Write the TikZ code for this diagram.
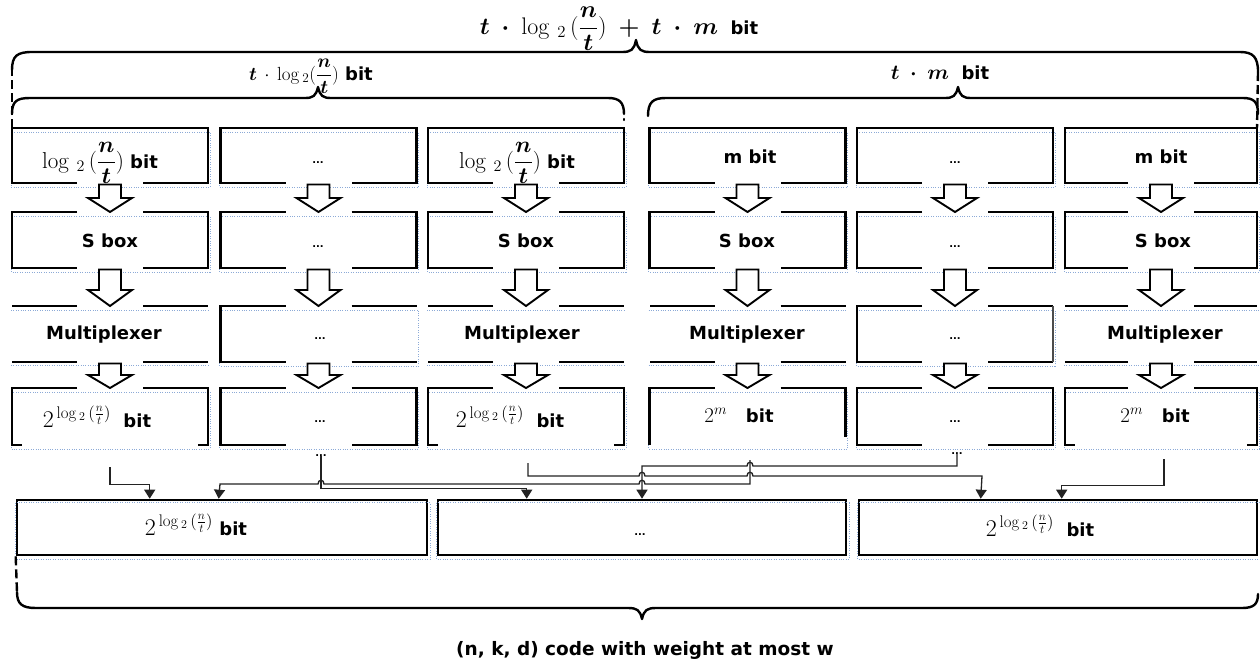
\RequirePackage{fix-cm}
\documentclass[tikz,border=0pt]{standalone}
\usepackage{amsmath}
\usepackage{fontspec}
\setsansfont{DejaVu Sans}
\usetikzlibrary{arrows.meta,calc}

\definecolor{framedot}{RGB}{140,170,215}
\definecolor{wire}{RGB}{35,35,35}

% fonts and recurring formulas
\newcommand\lbfont{\sffamily\bfseries\fontsize{18}{21}\selectfont}
\newcommand\mfont[1]{\fontsize{#1}{#1}\selectfont}
\newcommand\lgnt{\log\,{}_{2}\,(\dfrac{\boldsymbol{n}}{\boldsymbol{t}})}
\newcommand\powlg{2^{\,\log{}_{2}\,(\frac{n}{t})}}

% partial box outlines, drawn around invisible cell nodes
\newcommand\topbox[1]{% closed top, opening in the bottom edge
  \draw[boxline] ($(#1.south)+(-33,0)$) -| (#1.north west) -- (#1.north east) |- ($(#1.south)+(33,0)$);}
\newcommand\midbox[1]{% openings in top and bottom edges
  \draw[boxline] ($(#1.north)+(-33,0)$) -| (#1.south west) -- ($(#1.south)+(-33,0)$);
  \draw[boxline] ($(#1.north)+(33,0)$) -| (#1.south east) -- ($(#1.south)+(33,0)$);}
\newcommand\openbox[1]{% top and bottom edges only
  \draw[boxline] ($(#1.north)+(-33,0)$) -- (#1.north west);
  \draw[boxline] ($(#1.north)+(33,0)$) -- (#1.north east);
  \draw[thinline] ($(#1.south)+(-33,0)$) -- (#1.south west);
  \draw[thinline] ($(#1.south)+(33,0)$) -- (#1.south east);}
\newcommand\halfbox[1]{% left side, no right side
  \draw[boxline] ($(#1.north)+(-33,0)$) -| (#1.south west) -- ($(#1.south)+(-33,0)$);
  \draw[boxline] ($(#1.north)+(33,0)$) -- (#1.north east);
  \draw[boxline] ($(#1.south)+(33,0)$) -- (#1.south east);}
\newcommand\footbox[1]{% bracket shape with short feet
  \draw[boxline] ($(#1.north)+(-33,0)$) -| (#1.south west) -- ++(10,0);
  \draw[boxline] ($(#1.north)+(33,0)$) -| (#1.south east) -- ++(-10,0);}

% dotted text frames: full rectangle, or only the horizontal rules
\newcommand\dotframe[1]{%
  \draw[framedots] ($(#1.north west)+(-1,4)$) rectangle ($(#1.south east)+(2,4)$);}
\newcommand\dotrules[1]{%
  \draw[framedots] ($(#1.north west)+(-1,4)$) -- ($(#1.north east)+(2,4)$);
  \draw[framedots] ($(#1.south west)+(-1,3)$) -- ($(#1.south east)+(2,3)$);}

% hollow block arrow from one cell down to the next
\newcommand\flowdown[3]{%
  \draw[blockarr] let \p1=(#1.south), \p2=(#2.north) in
    (\x1-11pt,\y1-1.5pt) -- (\x1+11pt,\y1-1.5pt) -- (\x1+11pt,\y2+#3) -- (\x1+22pt,\y2+#3)
    -- (\x1,\y2) -- (\x1-22pt,\y2+#3) -- (\x1-11pt,\y2+#3) -- cycle;}

\tikzset{
  cell/.style={minimum width=196pt, minimum height=#1, inner sep=0pt, outer sep=0pt},
  bigbox/.style={draw, line width=2.6pt, minimum height=55pt, inner sep=0pt},
  boxline/.style={line width=2.6pt, line join=miter},
  thinline/.style={line width=1.3pt},
  brace/.style={line width=2.4pt, line cap=round, line join=round},
  dashedbrace/.style={line width=2.4pt, dash pattern=on 9pt off 4pt},
  blockarr/.style={line width=1.9pt, line join=miter, fill=white},
  conn/.style={line width=1.3pt, draw=wire, -{Triangle[width=11pt,length=9pt]}},
  framedots/.style={draw=framedot, line width=0.7pt, dash pattern=on 0.8pt off 1.6pt},
  txt/.style={font=\lbfont, inner sep=0pt, anchor=base},
  dots/.style={font=\sffamily\bfseries\fontsize{10}{10}\selectfont, inner sep=0pt, anchor=base},
}

\begin{document}
\begin{tikzpicture}[x=1pt,y=-1pt]
\fill[white] (0,0) rectangle (1260,659);
\useasboundingbox (0,0) rectangle (1260,659);

% ---- grid of cells: rows a..d, columns 1..6
\foreach \r/\yy/\hh in {a/155.5/55pt, b/240/56pt, c/334/56pt, d/416.5/57pt}{
  \foreach \c/\xx in {1/110, 2/318.5, 3/526, 4/747.5, 5/955}
    \node[cell=\hh] (\r\c) at (\xx,\yy) {};
  \node[cell=\hh, minimum width=192pt] (\r6) at (1161,\yy) {};
}

% light dotted text frames
\foreach \r in {a,b,d}{
  \foreach \c in {1,...,6}{\dotframe{\r\c}}
}
\dotrules{c1}\dotframe{c2}\dotrules{c3}\dotrules{c4}\dotframe{c5}\dotrules{c6}

% outlines
\foreach \c in {1,...,6}{\topbox{a\c}\midbox{b\c}}
\openbox{c1}\halfbox{c2}\openbox{c3}\openbox{c4}\halfbox{c5}\openbox{c6}
\draw[thinline, draw=black!70] (c5.north east) -- (c5.south east);
\footbox{d1}\midbox{d2}\footbox{d3}\midbox{d5}\footbox{d6}
\draw[boxline] ($(d4.north)+(-33,0)$) -| (d4.south west);
\draw[boxline] ($(d4.north)+(33,0)$) -| ($(d4.south east)+(0,-8)$);

% block arrows between the rows
\foreach \c in {1,...,6}{
  \flowdown{a\c}{b\c}{14pt}
  \flowdown{b\c}{c\c}{16pt}
  \flowdown{c\c}{d\c}{13pt}
}

% ---- cell texts
\node[txt] (ta1) at (100,168) {{\mfont{23}$\lgnt$}\ bit};
\node[dots] (ta2) at (318,163) {...};
\node[txt] (ta3) at (517,168) {{\mfont{23}$\lgnt$}\ bit};
\node[txt] (ta4) at (750,163) {m bit};
\node[dots] (ta5) at (955,163) {...};
\node[txt] (ta6) at (1161,163) {m bit};

\node[txt] (tb1) at (110,247) {S box};
\node[dots] (tb2) at (318,247) {...};
\node[txt] (tb3) at (526,247) {S box};
\node[txt] (tb4) at (747,247) {S box};
\node[dots] (tb5) at (955,247) {...};
\node[txt] (tb6) at (1163,247) {S box};

\node[txt] (tc1) at (104,339) {Multiplexer};
\node[dots] (tc2) at (320,339) {...};
\node[txt] (tc3) at (522,339) {Multiplexer};
\node[txt] (tc4) at (747,339) {Multiplexer};
\node[dots] (tc5) at (955,339) {...};
\node[txt] (tc6) at (1165,339) {Multiplexer};

\node[txt] (td1) at (97,427) {{\mfont{24}$\powlg$}\ \ bit};
\node[dots] (td2) at (320,422) {...};
\node[txt] (td3) at (510,427) {{\mfont{24}$\powlg$}\ \ bit};
\node[txt] (td4) at (739,422) {{\mfont{21}$2^{m}$}\ \ \ bit};
\node[dots] (td5) at (955,422) {...};
\node[txt] (td6) at (1155,422) {{\mfont{21}$2^{m}$}\ \ \ bit};

% ---- output register
\node[bigbox, minimum width=410pt] (bA) at (222,527.5) {};
\node[bigbox, minimum width=408pt] (bB) at (642,527.5) {};
\node[bigbox, minimum width=398pt] (bC) at (1058,527.5) {};
\draw[framedots] ($(bA.north west)+(0,4)$) rectangle ($(bA.south east)+(2,3)$);
\draw[framedots] ($(bB.north west)+(0,4)$) rectangle ($(bB.south east)+(2,3)$);
\draw[framedots] ($(bC.north west)+(0,4)$) rectangle ($(bC.south east)+(2,3)$);
\node[txt] (tA) at (196,535) {{\mfont{24}$\powlg$}\ bit};
\node[dots] (tB) at (640,535) {...};
\node[txt] (tC) at (1040,536) {{\mfont{24}$\powlg$}\ \ bit};

% ---- wiring from the columns to the register
\node[dots] (s2) at (321,456) {...};
\node[dots] (s5) at (957,454) {...};
\coordinate (o1) at (110,467);
\coordinate (o3) at (528,463);
\coordinate (o4) at (750,460);
\coordinate (o6) at (1164,459);
\coordinate (inA1) at ($(bA.north west)+(134,0)$);
\coordinate (inA2) at ($(bA.north west)+(203,0)$);
\coordinate (inB1) at ($(bB.north west)+(90,0)$);
\coordinate (inB2) at (bB.north);
\coordinate (inC1) at ($(bC.north west)+(123,0)$);
\coordinate (inC2) at ($(bC.north west)+(204,0)$);

\draw[conn] (o1) |- ($(inA1)+(0,-14)$) -- (inA1);
\draw[conn] (o4) -- (750,484) -- (645,484) .. controls (645,479) and (639,479) .. (639,484)
  -- (324,484) .. controls (324,479) and (318,479) .. (318,484) -- (220,484) -- (inA2);
\draw[conn] (s2.south) |- ($(inB1)+(0,-10)$) -- (inB1);
\draw[conn] (s5.south) -- (957,466) -- (753,466) .. controls (753,461) and (747,461) .. (747,466)
  -- (642,466) -- (inB2);
\draw[conn] (o3) -- (528,476) -- (639,476) .. controls (639,471) and (645,471) .. (645,476)
  -- (747,476) .. controls (747,471) and (753,471) .. (753,476) -- (982,476) -- (inC1);
\draw[conn] (o6) |- ($(inC2)+(0,-13)$) -- (inC2);

% ---- braces and their labels
\draw[dashedbrace] (a1.north west) -- (12,70);
\draw[brace] (12,70) .. controls (12,56) and (17,52) .. (32,52) -- (622,52)
  .. controls (631,52) and (634,50) .. (636,40) .. controls (638,50) and (641,52) .. (650,52)
  -- (1240,52) .. controls (1253,52) and (1258,57) .. (1258,72);
\draw[dashedbrace] (1258,72) -- (a6.north east);

\draw[brace] (12,114) .. controls (12,101) and (17,98) .. (30,98) -- (305,98)
  .. controls (313,98) and (316,96) .. (318,87) .. controls (320,96) and (323,98) .. (331,98)
  -- (608,98) .. controls (619,98) and (624,102) .. (624,114);
\draw[brace] (624,119) -- (624,120);
\draw[brace] (648,116) .. controls (648,102) and (653,98) .. (666,98) -- (945,98)
  .. controls (953,98) and (956,96) .. (958,87) .. controls (960,96) and (963,98) .. (971,98)
  -- (1243,98) .. controls (1254,98) and (1258,102) .. (1258,114);

\node[txt] (ttop) at (619,34) {{\mfont{24}$\boldsymbol{t}\;\mathbin{\boldsymbol{\cdot}}\;\lgnt\;\mathbin{\boldsymbol{+}}\;\boldsymbol{t}\;\mathbin{\boldsymbol{\cdot}}\;\boldsymbol{m}$}\ \ bit};
\node[txt] (tleft) at (311,80) {{\mfont{19}$\boldsymbol{t}\,\cdot\,\log{}_{2}(\dfrac{\boldsymbol{n}}{\boldsymbol{t}})$}\ bit};
\node[txt] (tright) at (940,79) {{\mfont{21}$\boldsymbol{t}\;\mathbin{\boldsymbol{\cdot}}\;\boldsymbol{m}$}\ \ bit};

\draw[dashedbrace] (bA.south west) -- (17,592);
\draw[brace] (17,592) .. controls (17,604) and (22,608) .. (36,608) -- (628,608)
  .. controls (637,608) and (640,610) .. (642,619) .. controls (644,610) and (647,608) .. (656,608)
  -- (1242,608) .. controls (1254,608) and (1258,604) .. (1258,594);

\node[txt, font=\sffamily\bfseries\fontsize{18.5}{22}\selectfont] (tbot) at (645,655) {(n, k, d) code with weight at most w};
\end{tikzpicture}
\end{document}
